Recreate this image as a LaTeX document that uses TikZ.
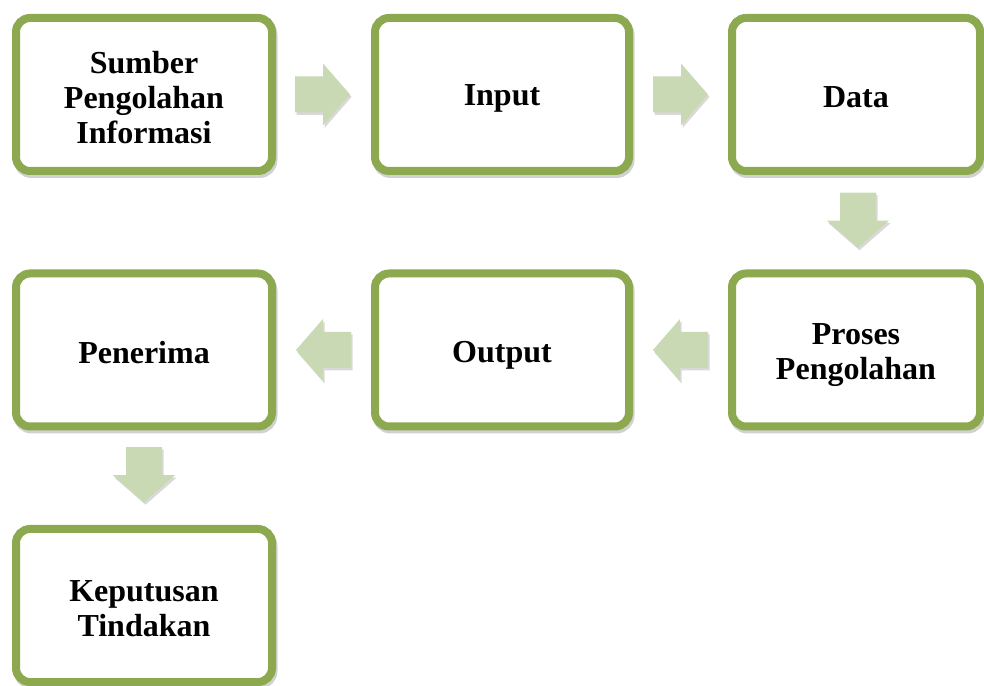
\documentclass[tikz,border=0pt]{standalone}
\usepackage{fontspec}
\setmainfont{Liberation Serif}
\usetikzlibrary{calc,shadows}
\definecolor{boxgreen}{HTML}{8CA94F}
\definecolor{arrowgreen}{HTML}{C9D9B3}
\tikzset{
  stepbox/.style={draw=boxgreen, line width=8pt, fill=white, rounded corners=14pt,
    minimum height=153pt, inner sep=0pt,
    drop shadow={draw=black, fill=black, line width=8pt, opacity=0.18,
      shadow xshift=1.5pt, shadow yshift=-3pt}},
  steptext/.style={align=center, inner sep=0pt,
    font=\fontsize{32}{35}\selectfont\bfseries},
  barrowshade/.pic={
    \fill[black, opacity=0.15]
      (-27.5pt,-18pt) -- (0.5pt,-18pt) -- (0.5pt,-31pt) -- (27.5pt,0pt)
      -- (0.5pt,31pt) -- (0.5pt,18pt) -- (-27.5pt,18pt) -- cycle;
  },
  barrow/.pic={
    \fill[arrowgreen]
      (-27.5pt,-18pt) -- (0.5pt,-18pt) -- (0.5pt,-31pt) -- (27.5pt,0pt)
      -- (0.5pt,31pt) -- (0.5pt,18pt) -- (-27.5pt,18pt) -- cycle;
  }
}
\newcommand{\blockarrow}[2]{%
  \pic[shift={(1.5,-2.5)}, rotate=#1] at #2 {barrowshade};
  \pic[rotate=#1] at #2 {barrow};}
\begin{document}
\begin{tikzpicture}[x=1pt,y=1pt]
\useasboundingbox (0,0) rectangle (984,685);
\node[stepbox, minimum width=256pt] (sumber) at (144,590.5) {};
\node[stepbox, minimum width=254pt] (input) at (502,590.5) {};
\node[stepbox, minimum width=248pt] (data) at (856,590.5) {};
\node[stepbox, minimum width=248pt] (proses) at (856,335) {};
\node[stepbox, minimum width=254pt] (output) at (502,335) {};
\node[stepbox, minimum width=256pt] (penerima) at (144,335) {};
\node[stepbox, minimum width=256pt] (keputusan) at (144,79.5) {};
\node[steptext] (sumbert) at ([yshift=-3pt]sumber.center) {Sumber\\Pengolahan\\Informasi};
\node[steptext] (inputt) at ([yshift=-4pt]input.center) {Input};
\node[steptext] (datat) at ([yshift=-3pt]data.center) {Data};
\node[steptext] (prosest) at ([yshift=-5pt]proses.center) {Proses\\Pengolahan};
\node[steptext] (outputt) at ([yshift=-5pt]output.center) {Output};
\node[steptext] (penerimat) at ([yshift=-3pt]penerima.center) {Penerima};
\node[steptext] (keputusant) at ([yshift=-3pt]keputusan.center) {Keputusan\\Tindakan};
\blockarrow{0}{($(sumber.east)!0.5!(input.west)+(-1,0)$)}
\blockarrow{0}{($(input.east)!0.5!(data.west)$)}
\blockarrow{-90}{($(data.south)!0.5!(proses.north)+(2,2)$)}
\blockarrow{180}{($(proses.west)!0.5!(output.east)$)}
\blockarrow{180}{($(output.west)!0.5!(penerima.east)$)}
\blockarrow{-90}{($(penerima.south)!0.5!(keputusan.north)+(0,3)$)}
\end{tikzpicture}
\end{document}
